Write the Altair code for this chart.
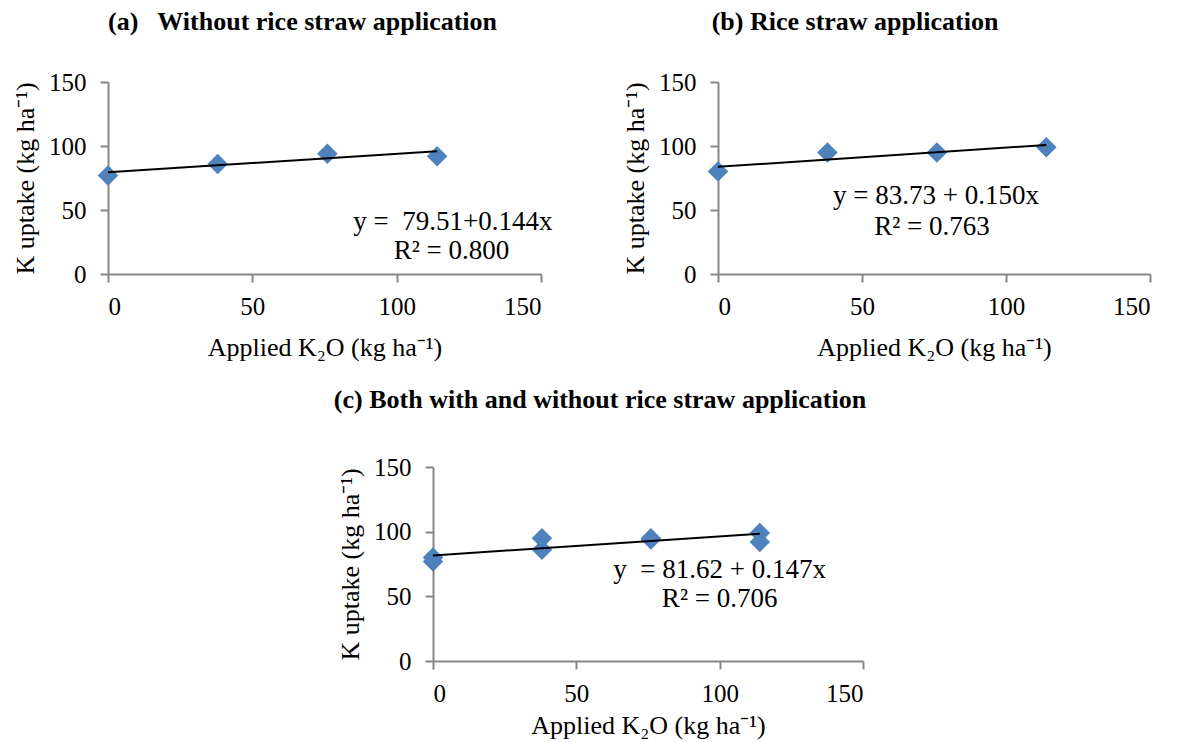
import altair as alt
import pandas as pd

# ---- data ----
k2o = [0, 38, 76, 114]
uptake_without = [77, 86, 94, 92]
uptake_with = [80, 95, 95, 99]

coef_a = [79.51, 0.144]
coef_b = [83.73, 0.150]
coef_c = [81.62, 0.147]
line_x = [0, 114]

titles = [
    "(a)\u00a0\u00a0 Without rice straw application",
    "(b) Rice straw application",
    "(c) Both with and without rice straw application",
]
eq_a = ["y =\u00a0 79.51+0.144x", "R\u00b2 = 0.800"]
eq_b = ["y = 83.73 + 0.150x", "R\u00b2 = 0.763"]
eq_c = ["y\u00a0 = 81.62 + 0.147x", "R\u00b2 = 0.706"]
eq_a_x = [119.5, 119.0]
eq_a_y = [41.0, 18.0]
eq_b_x = [75.7, 74.3]
eq_b_y = [61.0, 36.7]
eq_c_x = [100.0, 100.0]
eq_c_y = [70.4, 47.6]

axis_ticks = [0, 50, 100, 150]
x_title = "Applied K\u2082O (kg ha\u207b\u00b9)"
y_title = "K uptake (kg ha\u207b\u00b9)"

FONT = "Liberation Serif"
BLUE = "#4F81BD"


def panel(xs, ys, coef, eq_text, eq_x, eq_y, title, w, h, dx, offset, xtp):
    pts = pd.DataFrame({"x": xs, "y": ys})
    ln = pd.DataFrame({"x": line_x})
    ln["y"] = coef[0] + coef[1] * ln["x"]
    txt = pd.DataFrame({"x": eq_x, "y": eq_y, "t": eq_text})

    xenc = alt.X(
        "x:Q",
        scale=alt.Scale(domain=[0, 150], nice=False),
        axis=alt.Axis(values=axis_ticks, title=x_title, labelPadding=12,
                      titlePadding=xtp),
    )
    yenc = alt.Y(
        "y:Q",
        scale=alt.Scale(domain=[0, 150], nice=False),
        axis=alt.Axis(values=axis_ticks, title=y_title, labelPadding=14,
                      titlePadding=10),
    )
    p = alt.Chart(pts).mark_point(
        shape="diamond", filled=True, size=420, color=BLUE, opacity=1
    ).encode(x=xenc, y=yenc)
    l = alt.Chart(ln).mark_line(color="black", strokeWidth=2).encode(
        x="x:Q", y="y:Q"
    )
    t = alt.Chart(txt).mark_text(
        font=FONT, fontSize=27, color="black", baseline="middle", align="center"
    ).encode(x="x:Q", y="y:Q", text="t:N")
    return alt.layer(p, l, t).properties(
        width=w,
        height=h,
        title=alt.TitleParams(
            title, font=FONT, fontSize=26, fontWeight="bold", color="black",
            anchor="middle", frame="group", dx=dx, offset=offset,
            baseline="alphabetic",
        ),
    )


pa = panel(k2o, uptake_without, coef_a, eq_a, eq_a_x, eq_a_y, titles[0],
           433, 192, -22, 14, 15)
pb = panel(k2o, uptake_with, coef_b, eq_b, eq_b_x, eq_b_y, titles[1],
           432, 192, -79, 14, 15)
pc = panel(k2o + k2o, uptake_without + uptake_with, coef_c, eq_c, eq_c_x,
           eq_c_y, titles[2], 430, 194, -48, 21, 6)

spacer = alt.Chart(pd.DataFrame({"v": [0]})).mark_point(opacity=0).encode(
    x=alt.X("v:Q", axis=None), y=alt.Y("v:Q", axis=None)
).properties(width=148, height=194)

row1 = alt.hconcat(pa, pb, spacing=177, bounds="flush")
row2 = alt.hconcat(spacer, pc, spacing=177, bounds="flush")

chart = alt.vconcat(row1, row2, spacing=27).properties(
    padding={"left": 4, "top": 1, "right": 5, "bottom": 5}
).configure_view(
    stroke=None
).configure_axis(
    grid=False,
    labelFont=FONT, labelFontSize=25, labelColor="black",
    titleFont=FONT, titleFontSize=26, titleFontWeight="normal",
    titleColor="black",
    domainColor="#878787", tickColor="#878787", domainWidth=2, tickWidth=2,
    tickSize=8,
)

chart.save("out.html", embed_options={"renderer": "svg", "actions": False})
